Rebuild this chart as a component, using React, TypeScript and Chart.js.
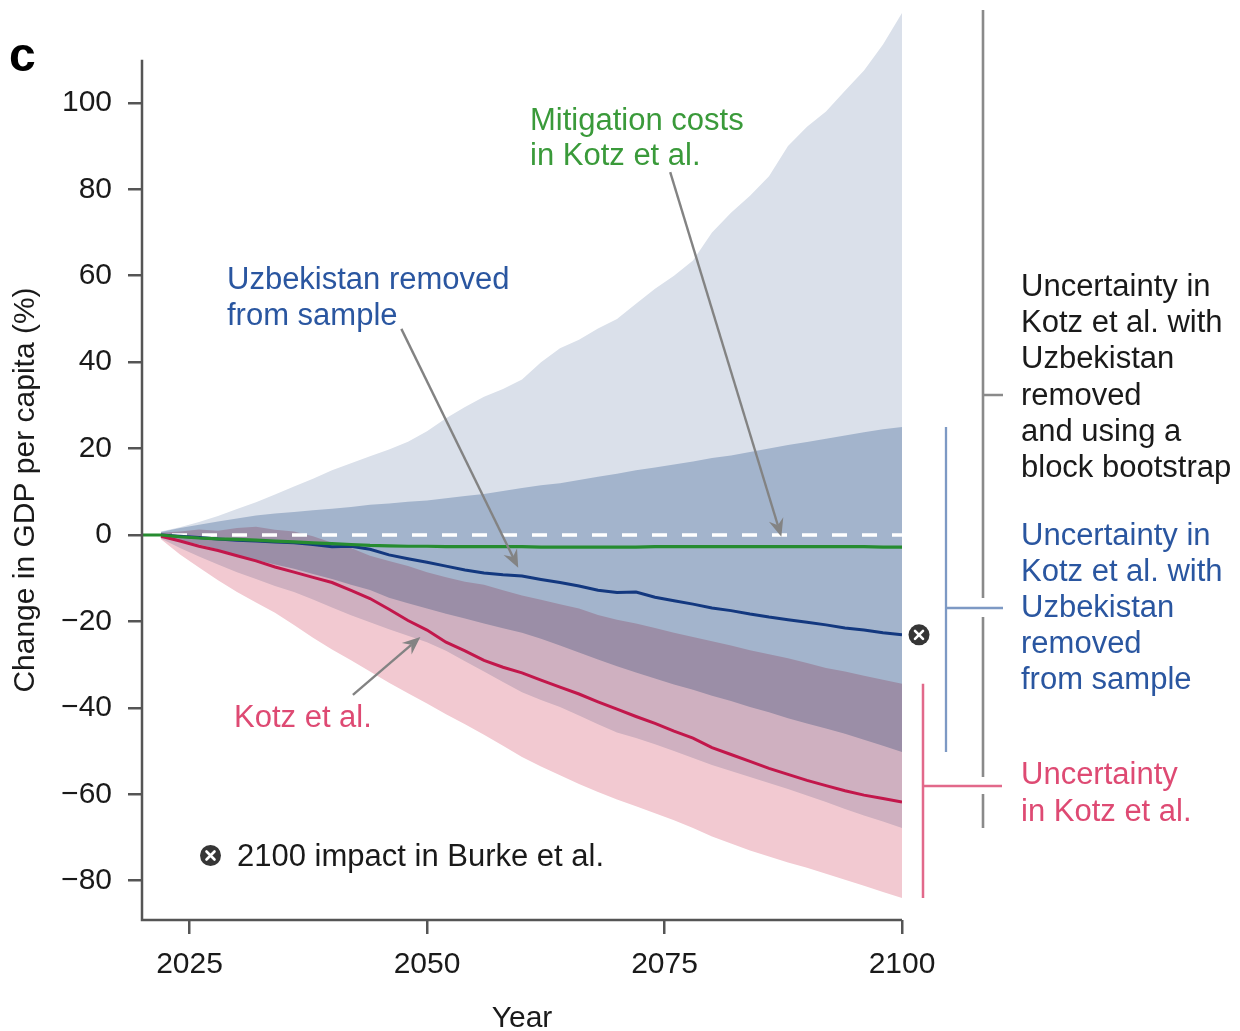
import React, { useEffect, useRef } from 'react';
import { Chart, registerables } from 'chart.js';

// Blend plugin registered before the built-ins so it wraps the Filler's fill drawing
const blendPlugin = {
  id: 'bandBlend',
  beforeDatasetDraw(chart: any, args: any) {
    const ds = chart.data.datasets[args.index];
    if (ds && ds.blend) {
      chart.ctx.save();
      chart.ctx.globalCompositeOperation = ds.blend;
    }
  },
  afterDatasetDraw(chart: any, args: any) {
    const ds = chart.data.datasets[args.index];
    if (ds && ds.blend) chart.ctx.restore();
  },
};
Chart.register(blendPlugin as any);
Chart.register(...registerables);

// ---------------- data ----------------
const years = [2022, 2024, 2026, 2028, 2030, 2032, 2034, 2036, 2038, 2040, 2042, 2044, 2046, 2048, 2050, 2052, 2054, 2056, 2058, 2060, 2062, 2064, 2066, 2068, 2070, 2072, 2074, 2076, 2078, 2080, 2082, 2084, 2086, 2088, 2090, 2092, 2094, 2096, 2098, 2100];

// Uncertainty: Uzbekistan removed + block bootstrap (light band)
const lightUpper = [0.8, 1.8, 3.0, 4.4, 6.0, 7.6, 9.4, 11.2, 13.0, 15.0, 16.6, 18.2, 19.8, 21.6, 24.0, 27.0, 29.6, 32.0, 33.8, 36.0, 40.0, 43.2, 45.2, 47.8, 50.0, 53.5, 57.0, 60.0, 63.5, 70.0, 74.6, 78.5, 83.0, 90.0, 94.5, 98.0, 102.8, 107.5, 113.5, 120.8];
const lightLower = [-0.8, -3.0, -5.0, -6.8, -8.6, -10.2, -11.8, -13.2, -14.9, -16.8, -18.6, -20.2, -21.8, -23.3, -24.8, -26.8, -29.2, -31.6, -34.0, -36.4, -38.2, -39.8, -41.8, -43.8, -45.7, -47.0, -48.4, -50.0, -51.6, -53.2, -54.6, -56.0, -57.4, -58.8, -60.3, -61.8, -63.4, -64.9, -66.3, -67.8];

// Uncertainty: Uzbekistan removed from sample (blue band)
const blueUpper = [0.7, 1.6, 2.4, 3.1, 3.8, 4.5, 5.0, 5.3, 5.7, 6.1, 6.5, 7.0, 7.3, 7.7, 8.0, 8.5, 9.0, 9.5, 10.2, 10.9, 11.5, 12.0, 12.7, 13.5, 14.2, 15.0, 15.6, 16.3, 17.0, 17.8, 18.4, 19.2, 20.0, 20.8, 21.5, 22.3, 23.0, 23.8, 24.5, 25.0];
const blueLower = [-0.5, -1.2, -2.2, -3.3, -4.8, -5.8, -6.8, -7.8, -9.0, -10.2, -11.5, -12.7, -14.5, -15.8, -17.0, -18.2, -19.3, -20.5, -21.6, -22.6, -24.0, -25.6, -27.2, -28.8, -30.4, -31.8, -33.2, -34.6, -35.8, -37.2, -38.4, -39.8, -41.0, -42.4, -43.6, -44.8, -46.0, -47.4, -48.8, -50.2];

// Uncertainty in Kotz et al. (pink band)
const pinkUpper = [0.5, 0.8, 1.3, 1.0, 1.6, 1.9, 1.2, 0.8, -0.3, -1.8, -3.0, -4.8, -6.0, -7.2, -8.6, -9.8, -10.8, -11.5, -12.8, -14.0, -15.0, -16.0, -17.0, -18.5, -19.6, -20.5, -21.5, -22.6, -23.6, -24.6, -25.6, -26.7, -27.6, -28.5, -29.6, -30.8, -31.6, -32.6, -33.5, -34.4];
const pinkLower = [-1.0, -4.5, -7.5, -10.5, -13.2, -15.6, -18.0, -20.8, -23.8, -26.5, -29.0, -31.6, -34.2, -36.6, -39.0, -41.5, -43.8, -46.2, -48.8, -51.4, -53.6, -55.6, -57.6, -59.5, -61.2, -62.8, -64.4, -66.0, -67.8, -69.8, -71.4, -73.0, -74.4, -75.8, -77.0, -78.4, -79.8, -81.2, -82.6, -84.0];

// Central estimates
const kotz = [-0.3, -1.4, -2.6, -3.6, -4.8, -6.0, -7.4, -8.6, -9.8, -11.0, -12.8, -14.7, -17.2, -19.8, -22.0, -24.8, -26.8, -29.0, -30.6, -31.9, -33.6, -35.2, -36.8, -38.6, -40.3, -42.0, -43.6, -45.4, -47.0, -49.2, -50.8, -52.4, -54.0, -55.4, -56.8, -58.0, -59.2, -60.2, -61.0, -61.8];
const uzbekRemoved = [0.0, -0.3, -0.6, -0.9, -1.2, -1.4, -1.6, -1.8, -2.2, -2.7, -2.6, -3.3, -4.6, -5.5, -6.3, -7.2, -8.1, -8.8, -9.2, -9.5, -10.3, -11.0, -11.8, -12.8, -13.3, -13.2, -14.4, -15.2, -16.0, -16.9, -17.5, -18.3, -19.0, -19.6, -20.2, -20.8, -21.5, -22.0, -22.6, -23.1];
const mitigationYears = [2020, 2022, 2024, 2026, 2028, 2030, 2032, 2034, 2036, 2038, 2040, 2042, 2044, 2046, 2048, 2050, 2052, 2054, 2056, 2058, 2060, 2062, 2064, 2066, 2068, 2070, 2072, 2074, 2076, 2078, 2080, 2082, 2084, 2086, 2088, 2090, 2092, 2094, 2096, 2098, 2100];
const mitigation = [0.0, 0.0, -0.4, -0.7, -0.9, -1.0, -1.2, -1.4, -1.6, -1.8, -2.0, -2.2, -2.4, -2.5, -2.6, -2.6, -2.7, -2.7, -2.7, -2.7, -2.7, -2.8, -2.8, -2.8, -2.8, -2.8, -2.8, -2.7, -2.7, -2.7, -2.7, -2.7, -2.7, -2.7, -2.7, -2.7, -2.7, -2.7, -2.7, -2.8, -2.8];
const zeroLineYears = [2022, 2100];
const zeroLine = [0, 0];
const burke2100 = -23.1;

const xTicks = [2025, 2050, 2075, 2100];
const yTicks = [-80, -60, -40, -20, 0, 20, 40, 60, 80, 100];

// annotation arrows in data space: [tailYear, tailValue, tipYear, tipValue]
const mitigationArrow = [2075.6, 84.0, 2087.3, -0.4];
const uzbekArrow = [2047.3, 47.7, 2059.6, -7.6];
const kotzArrow = [2042.2, -37.0, 2049.3, -23.6];

// ---------------- style ----------------
const FONT = '"Liberation Sans", Arial, Helvetica, sans-serif';
const TXT = '#1a1a1a';
const AXIS = '#555555';
const GREEN_TXT = '#3a9a3a';
const BLUE_TXT = '#2a56a0';
const PINK_TXT = '#de4a73';
const ANN_SIZE = 31;

const pts = (xs: number[], ys: number[]) => xs.map((x, i) => ({ x, y: ys[i] }));

function drawArrow(ctx: CanvasRenderingContext2D, x1: number, y1: number, x2: number, y2: number) {
  const ang = Math.atan2(y2 - y1, x2 - x1);
  const L = 18, W = 7.5, N = 12;
  const c = Math.cos(ang), s = Math.sin(ang);
  const bx = x2 - N * c, by = y2 - N * s;
  ctx.strokeStyle = '#838383';
  ctx.fillStyle = '#838383';
  ctx.lineWidth = 2.4;
  ctx.beginPath();
  ctx.moveTo(x1, y1);
  ctx.lineTo(bx, by);
  ctx.stroke();
  const ex = x2 - L * c, ey = y2 - L * s;
  ctx.beginPath();
  ctx.moveTo(x2, y2);
  ctx.lineTo(ex + W * s, ey - W * c);
  ctx.lineTo(bx, by);
  ctx.lineTo(ex - W * s, ey + W * c);
  ctx.closePath();
  ctx.fill();
}

function drawBurkeMarker(ctx: CanvasRenderingContext2D, x: number, y: number) {
  ctx.fillStyle = '#363636';
  ctx.beginPath();
  ctx.arc(x, y, 10.5, 0, Math.PI * 2);
  ctx.fill();
  ctx.strokeStyle = '#ffffff';
  ctx.lineWidth = 2.6;
  ctx.lineCap = 'round';
  const d = 4;
  ctx.beginPath();
  ctx.moveTo(x - d, y - d);
  ctx.lineTo(x + d, y + d);
  ctx.moveTo(x + d, y - d);
  ctx.lineTo(x - d, y + d);
  ctx.stroke();
  ctx.lineCap = 'butt';
}

function lines(ctx: CanvasRenderingContext2D, arr: string[], x: number, y0: number, dy: number, color: string) {
  ctx.fillStyle = color;
  arr.forEach((t, i) => ctx.fillText(t, x, y0 + i * dy));
}

const annotationPlugin = {
  id: 'annotations',
  afterDraw(chart: any) {
    const ctx: CanvasRenderingContext2D = chart.ctx;
    const xs = chart.scales.x;
    const ys = chart.scales.y;
    const px = (v: number) => xs.getPixelForValue(v);
    const py = (v: number) => ys.getPixelForValue(v);
    const left = chart.chartArea.left;
    const bottom = chart.chartArea.bottom;
    const right = chart.chartArea.right;
    ctx.save();

    // axes lines
    ctx.strokeStyle = AXIS;
    ctx.lineWidth = 2.5;
    ctx.beginPath();
    ctx.moveTo(left, py(110));
    ctx.lineTo(left, bottom);
    ctx.lineTo(right, bottom);
    ctx.stroke();

    ctx.textBaseline = 'alphabetic';
    ctx.textAlign = 'left';

    // panel label
    ctx.fillStyle = '#000';
    ctx.font = `900 48px ${FONT}`;
    ctx.fillText('c', 9, 71);

    // y title
    ctx.save();
    ctx.translate(34, 490);
    ctx.rotate(-Math.PI / 2);
    ctx.textAlign = 'center';
    ctx.fillStyle = TXT;
    ctx.font = `30px ${FONT}`;
    ctx.fillText('Change in GDP per capita (%)', 0, 0);
    ctx.restore();

    // arrows
    [mitigationArrow, uzbekArrow, kotzArrow].forEach((a) => {
      drawArrow(ctx, px(a[0]), py(a[1]), px(a[2]), py(a[3]));
    });

    ctx.font = `${ANN_SIZE}px ${FONT}`;
    lines(ctx, ['Mitigation costs', 'in Kotz et al.'], 530, 130, 35, GREEN_TXT);
    lines(ctx, ['Uzbekistan removed', 'from sample'], 227, 289, 36, BLUE_TXT);
    lines(ctx, ['Kotz et al.'], 234, 727, 36, PINK_TXT);

    // legend for Burke marker
    drawBurkeMarker(ctx, 210.5, 855.5);
    lines(ctx, ['2100 impact in Burke et al.'], 237, 866, 36, TXT);

    // Burke marker at 2100
    drawBurkeMarker(ctx, px(2100) + 17, py(burke2100));

    // brackets
    const last = years.length - 1;
    const grayX = 983, blueX = 946, pinkX = 923, tickEnd = 1003;
    const grayTickY = 395, blueTickY = 608, pinkTickY = 786;
    ctx.lineWidth = 2.6;
    ctx.strokeStyle = '#8a8a8a';
    const gTop = Math.min(py(lightUpper[last]), chart.chartArea.top);
    const gBot = py(lightLower[last]);
    ctx.beginPath();
    ctx.moveTo(grayX, gTop);
    ctx.lineTo(grayX, blueTickY - 10);
    ctx.moveTo(grayX, blueTickY + 9);
    ctx.lineTo(grayX, pinkTickY - 9);
    ctx.moveTo(grayX, pinkTickY + 8);
    ctx.lineTo(grayX, gBot);
    ctx.moveTo(grayX, grayTickY);
    ctx.lineTo(tickEnd, grayTickY);
    ctx.stroke();

    ctx.strokeStyle = '#7d99c4';
    ctx.lineWidth = 2.3;
    ctx.beginPath();
    ctx.moveTo(blueX, py(blueUpper[last]));
    ctx.lineTo(blueX, py(blueLower[last]));
    ctx.moveTo(blueX, blueTickY);
    ctx.lineTo(tickEnd, blueTickY);
    ctx.stroke();

    ctx.strokeStyle = '#e2698a';
    ctx.lineWidth = 2.5;
    ctx.beginPath();
    ctx.moveTo(pinkX, py(pinkUpper[last]));
    ctx.lineTo(pinkX, py(pinkLower[last]));
    ctx.moveTo(pinkX, pinkTickY);
    ctx.lineTo(tickEnd - 1, pinkTickY);
    ctx.stroke();

    ctx.font = `${ANN_SIZE}px ${FONT}`;
    lines(ctx, ['Uncertainty in', 'Kotz et al. with', 'Uzbekistan', 'removed', 'and using a', 'block bootstrap'], 1021, 296, 36.2, TXT);
    lines(ctx, ['Uncertainty in', 'Kotz et al. with', 'Uzbekistan', 'removed', 'from sample'], 1021, 545, 36, BLUE_TXT);
    lines(ctx, ['Uncertainty', 'in Kotz et al.'], 1021, 784, 37, PINK_TXT);

    ctx.restore();
  },
};

function band(upper: number[], lower: number[], color: string, order: number, blend?: string) {
  return [
    {
      data: pts(years, upper),
      fill: '+1',
      backgroundColor: color,
      borderColor: 'rgba(0,0,0,0)',
      borderWidth: 0,
      pointRadius: 0,
      order,
      blend,
    },
    {
      data: pts(years, lower),
      fill: false,
      borderColor: 'rgba(0,0,0,0)',
      borderWidth: 0,
      pointRadius: 0,
      order,
    },
  ];
}

export default function App() {
  const ref = useRef<HTMLCanvasElement>(null);
  useEffect(() => {
    const canvas = ref.current;
    if (!canvas) return;
    const chart = new Chart(canvas, {
      type: 'line',
      data: {
        datasets: [
          ...band(lightUpper, lightLower, '#dae0ea', 10),
          ...band(blueUpper, blueLower, '#a3b4cc', 9),
          ...band(pinkUpper, pinkLower, '#f2c9d1', 8, 'multiply'),
          {
            data: pts(zeroLineYears, zeroLine),
            borderColor: '#ffffff',
            borderWidth: 3.5,
            borderDash: [15, 15],
            borderDashOffset: 19,
            pointRadius: 0,
            fill: false,
            order: 4,
          },
          {
            data: pts(years, uzbekRemoved),
            borderColor: '#13387f',
            borderWidth: 3,
            pointRadius: 0,
            fill: false,
            order: 3,
          },
          {
            data: pts(years, kotz),
            borderColor: '#c2174b',
            borderWidth: 3,
            pointRadius: 0,
            fill: false,
            order: 2,
          },
          {
            data: pts(mitigationYears, mitigation),
            borderColor: '#268c30',
            borderWidth: 3.2,
            pointRadius: 0,
            fill: false,
            order: 1,
          },
        ] as any,
      },
      options: {
        responsive: false,
        animation: false,
        events: [],
        layout: { padding: { top: 10, right: 338, left: 0, bottom: 0 } },
        plugins: {
          legend: { display: false },
          tooltip: { enabled: false },
          filler: { drawTime: 'beforeDatasetDraw' },
        },
        elements: { line: { tension: 0 } },
        scales: {
          x: {
            type: 'linear',
            min: 2020,
            max: 2100,
            afterBuildTicks: (s: any) => {
              s.ticks = xTicks.map((v) => ({ value: v }));
            },
            afterFit: (s: any) => {
              s.height = 111;
              s.paddingLeft = 0;
              s.paddingRight = 0;
            },
            grid: {
              display: true,
              drawOnChartArea: false,
              drawTicks: true,
              tickLength: 14,
              color: AXIS,
              lineWidth: 2.5,
            },
            border: { display: false },
            ticks: {
              autoSkip: false,
              maxRotation: 0,
              padding: 13,
              color: TXT,
              font: { family: FONT, size: 30 },
              callback: (v: any) => String(v),
            },
            title: {
              display: true,
              text: 'Year',
              color: TXT,
              font: { family: FONT, size: 30, lineHeight: 1 },
              padding: { top: 0, bottom: -3 },
            },
          },
          y: {
            type: 'linear',
            min: -89.1,
            max: 121.5,
            afterBuildTicks: (s: any) => {
              s.ticks = yTicks.map((v) => ({ value: v }));
            },
            afterFit: (s: any) => {
              s.width = 142;
              s.paddingTop = 0;
              s.paddingBottom = 0;
            },
            grid: {
              display: true,
              drawOnChartArea: false,
              drawTicks: true,
              tickLength: 14,
              color: AXIS,
              lineWidth: 2.5,
            },
            border: { display: false },
            ticks: {
              autoSkip: false,
              padding: 16,
              color: TXT,
              font: { family: FONT, size: 30 },
              callback: (v: any) => (v < 0 ? '\u2212' + Math.abs(v) : String(v)),
            },
          },
        },
      },
      plugins: [annotationPlugin as any],
    });
    return () => chart.destroy();
  }, []);

  return (
    <div style={{ position: 'fixed', left: 0, top: 0, width: 1240, height: 1031, background: '#ffffff' }}>
      <canvas ref={ref} width={1240} height={1031} style={{ display: 'block', width: 1240, height: 1031 }} />
    </div>
  );
}
